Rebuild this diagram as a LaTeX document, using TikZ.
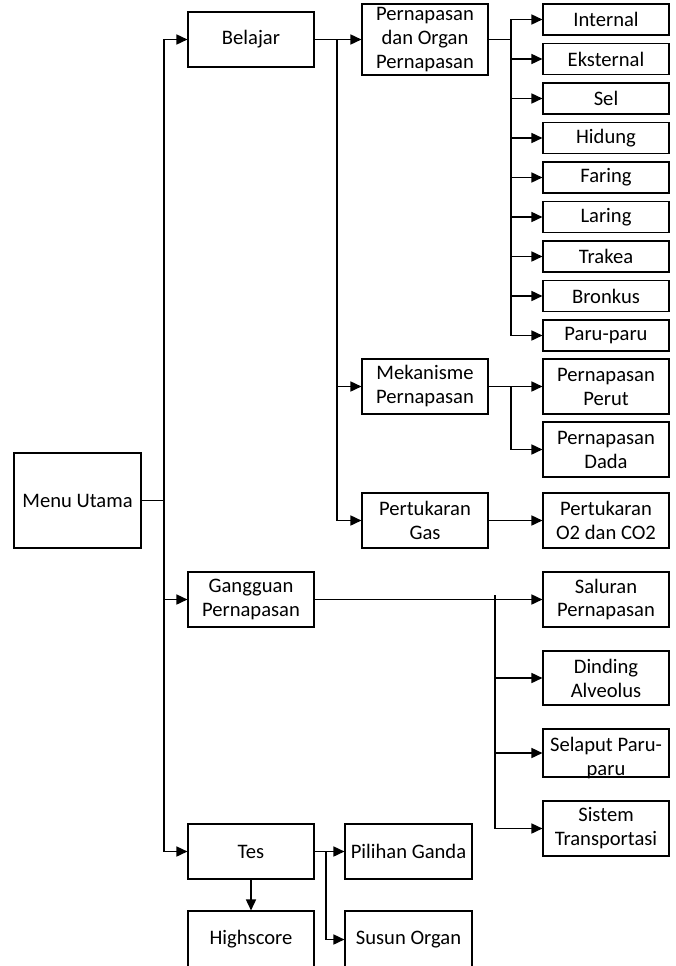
\documentclass[tikz,border=0pt]{standalone}
\usepackage{fontspec}
\setmainfont{Carlito}
\usetikzlibrary{arrows.meta}
\begin{document}
\begin{tikzpicture}[x=1pt,y=-1pt,
  box/.style={draw, line width=1.1pt, minimum width=126pt, inner sep=0pt, align=center,
    font=\fontsize{20.6}{24}\selectfont},
  conn/.style={line width=1.6pt},
  arr/.style={line width=1.6pt, -{Triangle[length=11pt,width=10pt]}}]
\useasboundingbox (0,0) rectangle (675,966);
\clip (0,0) rectangle (675,966);
% main column
\node[box, minimum width=127pt, minimum height=95pt] (menu) at (77.5,500.5) {Menu Utama};
\node[box, minimum height=55pt] (bel) at (251,39.5) {Belajar};
\node[box, minimum height=55pt] (gang) at (251,599.5) {Gangguan\\Pernapasan};
\node[box, minimum height=55pt] (tes) at (251,851.5) {Tes};
\node[box, minimum height=57pt] (hs) at (251,939.5) {Highscore};
% belajar children
\node[box, minimum height=71pt] (pdo) at (425,39.5) {Pernapasan\\dan Organ\\Pernapasan};
\node[box, minimum height=55pt] (mek) at (425,386.5) {Mekanisme\\Pernapasan};
\node[box, minimum height=55pt] (ptg) at (425,520.5) {Pertukaran\\Gas};
% right column
\node[box, minimum height=31pt] (int) at (606,19.5) {Internal};
\node[box, minimum height=31pt] (eks) at (606,59) {Eksternal};
\node[box, minimum height=31pt] (sel) at (606,98.5) {Sel};
\node[box, minimum height=31pt] (hid) at (606,138) {Hidung};
\node[box, minimum height=31pt] (far) at (606,177.5) {Faring};
\node[box, minimum height=31pt] (lar) at (606,217) {Laring};
\node[box, minimum height=31pt] (tra) at (606,256.5) {Trakea};
\node[box, minimum height=31pt] (bro) at (606,296) {Bronkus};
\node[box, minimum height=31pt] (par) at (606,335.5) {Paru-paru};
\node[box, minimum height=55pt] (per) at (606,386.5) {Pernapasan\\Perut};
\node[box, minimum height=55pt] (dad) at (606,449.5) {Pernapasan\\Dada};
\node[box, minimum height=55pt] (o2) at (606,520.5) {Pertukaran\\O2 dan CO2};
\node[box, minimum height=55pt] (sal) at (606,599.5) {Saluran\\Pernapasan};
\node[box, minimum height=54pt] (din) at (606,678) {Dinding\\Alveolus};
\node[box, minimum height=48pt] (sela) at (606,753) {};
\node[align=center, inner sep=0pt, font=\fontsize{20.6}{24}\selectfont] (selat) at ([yshift=-5pt]sela.center) {Selaput Paru-\\paru};
\node[box, minimum height=55pt] (sis) at (606,828.5) {Sistem\\Transportasi};
\node[box, minimum width=127pt, minimum height=55pt] (pil) at (408.5,851.5) {Pilihan Ganda};
\node[box, minimum width=127pt, minimum height=57pt] (sus) at (408.5,939.5) {Susun Organ};
% junctions
\coordinate (mj) at (164,500.5);
\coordinate (bj) at (337,39.5);
\coordinate (pj) at (511,39.5);
\coordinate (mkj) at (511,386.5);
\coordinate (gj) at (495,595);
\coordinate (tj) at (326,851.5);
% main trunk
\draw[conn] (menu.east) -- (mj);
\draw[arr] (mj) |- (bel.west);
\draw[arr] (mj) |- (gang.west);
\draw[arr] (mj) |- (tes.west);
\draw[arr] (tes.south) -- (hs.north);
% belajar trunk
\draw[conn] (bel.east) -- (bj);
\draw[arr] (bj) -- (pdo.west);
\draw[arr] (bj) |- (mek.west);
\draw[arr] (bj) |- (ptg.west);
% pdo branch
\draw[conn] (pdo.east) -- (pj);
\foreach \n in {int,eks,sel,hid,far,lar,tra,bro,par}
  \draw[arr] (pj) |- (\n.west);
% mekanisme branch
\draw[conn] (mek.east) -- (mkj);
\draw[arr] (mkj) -- (per.west);
\draw[arr] (mkj) |- (dad.west);
% pertukaran gas
\draw[arr] (ptg.east) -- (o2.west);
% gangguan
\draw[arr] (gang.east) -- (sal.west);
\draw[arr] (gj) |- (sis.west);
\draw[arr] (gj |- din.west) -- (din.west);
\draw[arr] (gj |- sela.west) -- (sela.west);
% tes
\draw[conn] (tes.east) -- (tj);
\draw[arr] (tj) -- (pil.west);
\draw[arr] (tj) |- (sus.west);
\end{tikzpicture}
\end{document}
